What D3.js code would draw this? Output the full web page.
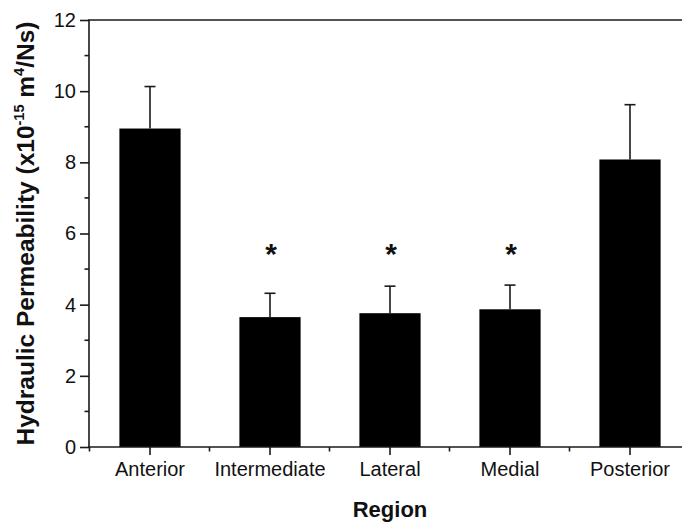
<!DOCTYPE html>
<html>
<head>
<meta charset="utf-8">
<script src="https://cdn.jsdelivr.net/npm/d3@7"></script>
<style>
  body { margin: 0; background: #fff; }
  text { font-family: Arial, "Liberation Sans", sans-serif; fill: #111; }
</style>
</head>
<body>
<svg id="chart" width="682" height="525"></svg>
<script>
const width = 682, height = 525;

const regions   = ["Anterior", "Intermediate", "Lateral", "Medial", "Posterior"];
const means     = [8.95, 3.65, 3.76, 3.87, 8.08];
const errUp     = [1.18, 0.67, 0.76, 0.68, 1.54];
const signif    = [false, true, true, true, false];
const yTicks    = [0, 2, 4, 6, 8, 10, 12];
const yMinor    = [1, 3, 5, 7, 9, 11];

const svg = d3.select("#chart");

const x = d3.scaleBand()
    .domain(regions)
    .range([90, 690])
    .paddingInner(0.49)
    .paddingOuter(0.245);

const y = d3.scaleLinear()
    .domain([0, 12])
    .range([447, 20]);

const ink = "#1a1a1a";

// bars
svg.selectAll(".bar")
    .data(regions)
    .join("rect")
    .attr("class", "bar")
    .attr("x", d => x(d))
    .attr("width", x.bandwidth())
    .attr("y", (d, i) => y(means[i]))
    .attr("height", (d, i) => y(0) - y(means[i]))
    .attr("fill", "#000");

// error bars (upper only)
const eb = svg.append("g").attr("stroke", ink).attr("stroke-width", 1.6);
regions.forEach((r, i) => {
    const cx = x(r) + x.bandwidth() / 2;
    eb.append("line").attr("x1", cx).attr("x2", cx)
        .attr("y1", y(means[i])).attr("y2", y(means[i] + errUp[i]));
    eb.append("line").attr("x1", cx - 5.5).attr("x2", cx + 5.5)
        .attr("y1", y(means[i] + errUp[i])).attr("y2", y(means[i] + errUp[i]));
});

// asterisks
svg.selectAll(".star")
    .data(regions.filter((r, i) => signif[i]))
    .join("text")
    .attr("class", "star")
    .attr("x", d => x(d) + x.bandwidth() / 2 + 1)
    .attr("y", y(5.15))
    .attr("text-anchor", "middle")
    .attr("font-size", 30)
    .attr("font-weight", "bold")
    .text("*");

// y axis
const yAxis = svg.append("g")
    .attr("transform", "translate(89,0)")
    .call(d3.axisLeft(y).tickValues(yTicks).tickSize(9).tickPadding(4).tickFormat(d3.format("d")));
yAxis.selectAll("text").attr("font-size", 20).attr("font-family", "Arial, 'Liberation Sans', sans-serif").attr("fill", "#111");
yAxis.append("g").selectAll("line")
    .data(yMinor)
    .join("line")
    .attr("x1", -4.5).attr("x2", 0)
    .attr("y1", d => y(d)).attr("y2", d => y(d));
yAxis.selectAll("line, path").attr("stroke", ink).attr("stroke-width", 1.6);
yAxis.select(".domain").attr("d", `M0,${y(12)}V${y(0)}`);

// x axis
const xAxis = svg.append("g")
    .attr("transform", `translate(0,${y(0)})`)
    .call(d3.axisBottom(x).tickSize(8).tickPadding(7));
xAxis.selectAll("text").attr("font-size", 20).attr("font-family", "Arial, 'Liberation Sans', sans-serif").attr("fill", "#111");
const xMinor = regions.map(r => x(r) - x.step() * x.paddingInner() / 2 - 0.5).concat([690]);
xAxis.append("g").selectAll("line")
    .data(xMinor)
    .join("line")
    .attr("x1", d => d).attr("x2", d => d)
    .attr("y1", 0).attr("y2", 4.5);
xAxis.selectAll("line, path").attr("stroke", ink).attr("stroke-width", 1.6);
xAxis.select(".domain").attr("d", "M88,0H690");

// top frame line
svg.append("line")
    .attr("x1", 88).attr("x2", 690)
    .attr("y1", y(12)).attr("y2", y(12))
    .attr("stroke", ink).attr("stroke-width", 1.6);

// axis titles
svg.append("text")
    .attr("x", 390).attr("y", 517)
    .attr("text-anchor", "middle")
    .attr("font-size", 22)
    .attr("font-weight", "bold")
    .text("Region");

const yl = svg.append("text")
    .attr("transform", `translate(34,${(y(0) + y(12)) / 2}) rotate(-90)`)
    .attr("text-anchor", "middle")
    .attr("font-size", 24.5)
    .attr("font-weight", "bold");
yl.append("tspan").text("Hydraulic Permeability (x10");
yl.append("tspan").attr("font-size", 14.5).attr("dy", -10).text("-15");
yl.append("tspan").attr("dy", 10).text(" m");
yl.append("tspan").attr("font-size", 14.5).attr("dy", -10).text("4");
yl.append("tspan").attr("dy", 10).text("/Ns)");
</script>
</body>
</html>
